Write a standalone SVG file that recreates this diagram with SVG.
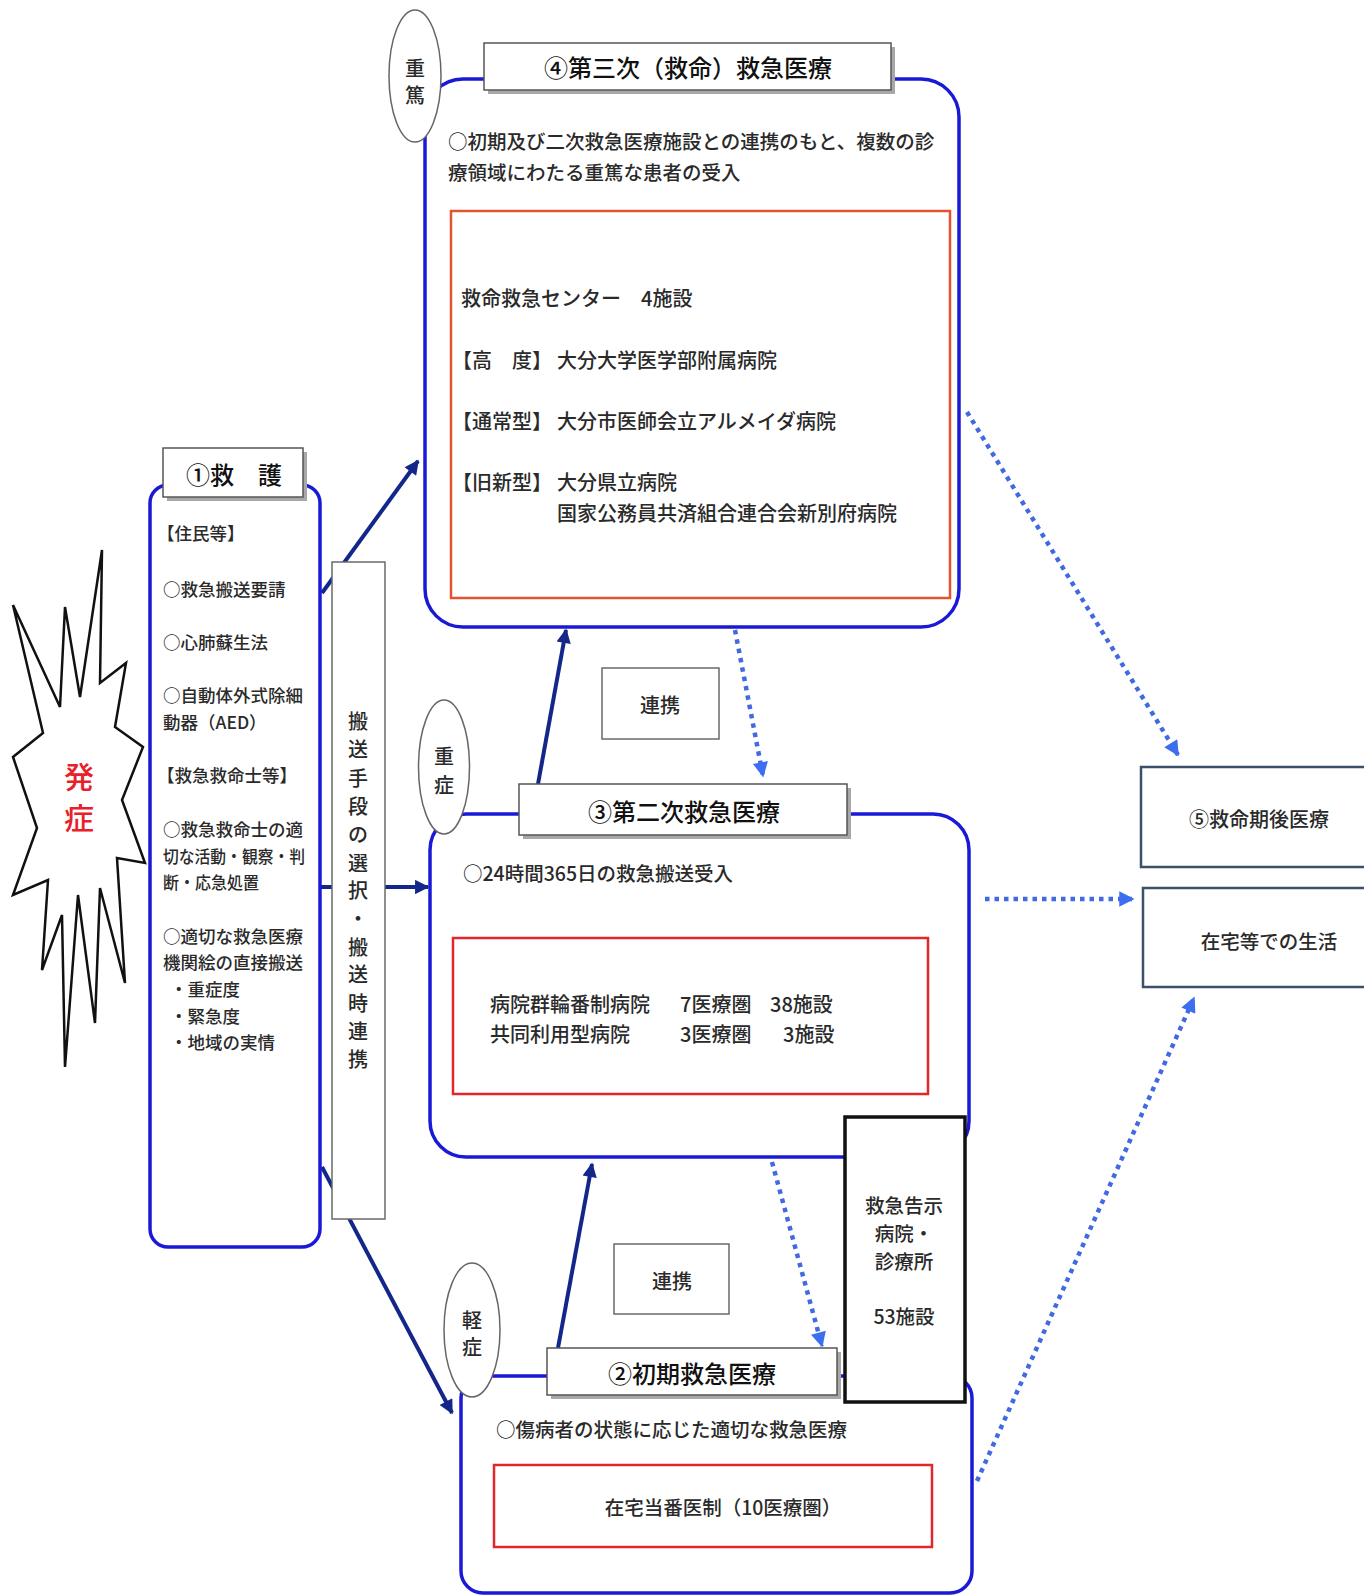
<svg xmlns="http://www.w3.org/2000/svg" width="1364" height="1596" viewBox="0 0 1364 1596">
<style>
text{font-family:"Noto Sans CJK JP","Noto Sans CJK SC",sans-serif;fill:#2a2a2a;dominant-baseline:central;font-weight:500}
.body{font-size:19.5px}
.list{font-size:20px}
.small{font-size:17.5px}
.title{font-size:24px;fill:#111}
.mid{text-anchor:middle}
.blue{fill:#fff;stroke:#1a1ad6;stroke-width:3.5}
.red{fill:none;stroke:#e0282a;stroke-width:2.5}
.redo{fill:none;stroke:#e2542e;stroke-width:2.5}
.tbox{fill:#fff;stroke:#555;stroke-width:1.5}
.shadow{fill:#a8a8a8}
.oval{fill:#fff;stroke:#666;stroke-width:1.5}
.gbox{fill:#fff;stroke:#6a6a6a;stroke-width:1.5}
.rbox{fill:#fff;stroke:#3c5068;stroke-width:2.5}
.solid{stroke:#13278a;stroke-width:4;fill:none}
.dot{stroke:#4169e1;stroke-width:4.5;fill:none;stroke-dasharray:4.5 5}
</style>
<defs>
<marker id="aS" viewBox="0 0 10 10" refX="9" refY="5" markerWidth="4.2" markerHeight="3.6" orient="auto"><path d="M0,0 L10,5 L0,10 z" fill="#13278a"/></marker>
<marker id="aD" viewBox="0 0 10 10" refX="9" refY="5" markerWidth="3.8" markerHeight="3.4" orient="auto"><path d="M0,0 L10,5 L0,10 z" fill="#3d6ef0"/></marker>
</defs>
<rect width="1364" height="1596" fill="#fff"/>

<!-- starburst -->
<g id="onset">
<polygon points="13,605 60,707 65,607 80,697 102,550 100,683 126,663 115,727 143,747 122,800 145,863 117,858 125,983 100,888 95,1023 78,895 65,1067 62,915 42,970 48,880 13,895 37,828 13,757 43,733" fill="#fff" stroke="#111" stroke-width="2.5" stroke-linejoin="miter"/>
<text x="79" y="775" class="mid" style="font-size:30px;fill:#e8202a">発</text>
<text x="79" y="816" class="mid" style="font-size:30px;fill:#e8202a">症</text>
</g>

<!-- connectors -->
<g id="connectors">
<line class="solid" x1="322" y1="593" x2="418" y2="461" marker-end="url(#aS)"/>
<line class="solid" x1="320" y1="887" x2="428" y2="887" marker-end="url(#aS)"/>
<line class="solid" x1="322" y1="1167" x2="452" y2="1413" marker-end="url(#aS)"/>
<line class="solid" x1="538" y1="784" x2="566" y2="630" marker-end="url(#aS)"/>
<line class="solid" x1="558" y1="1348" x2="592" y2="1164" marker-end="url(#aS)"/>
<line class="dot" x1="735" y1="630" x2="763" y2="776" marker-end="url(#aD)"/>
<line class="dot" x1="772" y1="1162" x2="822" y2="1346" marker-end="url(#aD)"/>
<line class="dot" x1="967" y1="412" x2="1178" y2="755" marker-end="url(#aD)"/>
<line class="dot" x1="985" y1="899" x2="1133" y2="899" marker-end="url(#aD)"/>
<line class="dot" x1="977" y1="1481" x2="1194" y2="998" marker-end="url(#aD)"/>
</g>

<!-- transport -->
<g id="transport">
<rect class="gbox" x="332" y="562" width="53" height="657"/>
<g class="list mid">
<text x="358" y="720">搬</text>
<text x="358" y="748">送</text>
<text x="358" y="777">手</text>
<text x="358" y="805">段</text>
<text x="358" y="833">の</text>
<text x="358" y="862">選</text>
<text x="358" y="889">択</text>
<text x="358" y="917">・</text>
<text x="358" y="946">搬</text>
<text x="358" y="973">送</text>
<text x="358" y="1002">時</text>
<text x="358" y="1030">連</text>
<text x="358" y="1058">携</text>
</g>
</g>

<!-- rescue -->
<g id="rescue">
<rect class="blue" x="150" y="485" width="170" height="762" rx="18"/>
<rect class="shadow" x="167" y="452" width="140" height="49"/>
<rect class="tbox" x="163" y="448" width="140" height="49"/>
<text x="234" y="473" class="title mid">①救　護</text>
<g class="small">
<text x="157" y="532">【住民等】</text>
<text x="163" y="588">○救急搬送要請</text>
<text x="163" y="641">○心肺蘇生法</text>
<text x="163" y="694">○自動体外式除細</text>
<text x="163" y="721">動器（AED）</text>
<text x="157" y="774">【救急救命士等】</text>
<text x="163" y="828">○救急救命士の適</text>
<text x="163" y="855" textLength="142" lengthAdjust="spacingAndGlyphs">切な活動・観察・判</text>
<text x="163" y="881" textLength="96" lengthAdjust="spacingAndGlyphs">断・応急処置</text>
<text x="163" y="935">○適切な救急医療</text>
<text x="163" y="961">機関絵の直接搬送</text>
<text x="170" y="988">・重症度</text>
<text x="170" y="1015">・緊急度</text>
<text x="170" y="1041">・地域の実情</text>
</g>
</g>

<!-- tertiary -->
<g id="tertiary">
<rect class="blue" x="425" y="79" width="534" height="548" rx="38"/>
<rect class="redo" x="451" y="211" width="499" height="387"/>
<rect class="shadow" x="488" y="47" width="407" height="47"/>
<rect class="tbox" x="484" y="43" width="407" height="47"/>
<text x="688" y="66" class="title mid">④第三次（救命）救急医療</text>
<ellipse class="oval" cx="415" cy="76" rx="26" ry="66"/>
<text x="415" y="67" class="list mid">重</text>
<text x="415" y="94" class="list mid">篤</text>
<text x="448" y="140" class="body">○初期及び二次救急医療施設との連携のもと、複数の診</text>
<text x="448" y="171" class="body">療領域にわたる重篤な患者の受入</text>
<g class="list">
<text x="461" y="297">救命救急センター</text>
<text x="641" y="297">4施設</text>
<text x="452" y="359">【高　度】</text>
<text x="557" y="359">大分大学医学部附属病院</text>
<text x="452" y="420">【通常型】</text>
<text x="557" y="420">大分市医師会立アルメイダ病院</text>
<text x="452" y="481">【旧新型】</text>
<text x="557" y="481">大分県立病院</text>
<text x="557" y="512">国家公務員共済組合連合会新別府病院</text>
</g>
</g>

<!-- renkei 1 -->
<g id="renkei1">
<rect class="gbox" x="602" y="668" width="117" height="71"/>
<text x="660" y="704" class="list mid">連携</text>
</g>

<!-- secondary -->
<g id="secondary">
<rect class="blue" x="430" y="814" width="539" height="343" rx="36"/>
<rect class="red" x="453" y="938" width="475" height="156"/>
<rect class="shadow" x="523" y="788" width="328" height="51"/>
<rect class="tbox" x="519" y="784" width="328" height="51"/>
<text x="684" y="810" class="title mid">③第二次救急医療</text>
<ellipse class="oval" cx="444" cy="767" rx="25.5" ry="67"/>
<text x="444" y="755" class="list mid">重</text>
<text x="444" y="784" class="list mid">症</text>
<text x="463" y="872" class="body">○24時間365日の救急搬送受入</text>
<g class="list">
<text x="490" y="1003">病院群輪番制病院</text>
<text x="680" y="1003">7医療圏</text>
<text x="770" y="1003">38施設</text>
<text x="490" y="1033">共同利用型病院</text>
<text x="680" y="1033">3医療圏</text>
<text x="783" y="1033">3施設</text>
</g>
</g>

<!-- renkei 2 -->
<g id="renkei2">
<rect class="gbox" x="614" y="1244" width="115" height="70"/>
<text x="672" y="1280" class="list mid">連携</text>
</g>

<!-- primary -->
<g id="primary">
<rect class="blue" x="461" y="1376" width="511" height="217" rx="22"/>
<rect class="red" x="494" y="1465" width="438" height="82"/>
<rect class="shadow" x="551" y="1352" width="290" height="47"/>
<rect class="tbox" x="547" y="1348" width="290" height="47"/>
<text x="692" y="1372" class="title mid">②初期救急医療</text>
<ellipse class="oval" cx="472" cy="1330" rx="28" ry="67"/>
<text x="472" y="1319" class="list mid">軽</text>
<text x="472" y="1346" class="list mid">症</text>
<text x="496" y="1428" class="body">○傷病者の状態に応じた適切な救急医療</text>
<text x="723" y="1506" class="body mid">在宅当番医制（10医療圏）</text>
</g>

<!-- notified hospitals -->
<g id="notified">
<rect x="845" y="1117" width="120" height="285" fill="#fff" stroke="#111" stroke-width="3.5"/>
<g class="body mid">
<text x="904" y="1204">救急告示</text>
<text x="904" y="1232">病院・</text>
<text x="904" y="1260">診療所</text>
<text x="904" y="1315">53施設</text>
</g>
</g>

<!-- right boxes -->
<g id="postcare">
<rect class="rbox" x="1141" y="767" width="240" height="100"/>
<text x="1259" y="818" class="list mid">⑤救命期後医療</text>
</g>
<g id="home">
<rect class="rbox" x="1143" y="888" width="240" height="99"/>
<text x="1269" y="940" class="body mid">在宅等での生活</text>
</g>
</svg>
